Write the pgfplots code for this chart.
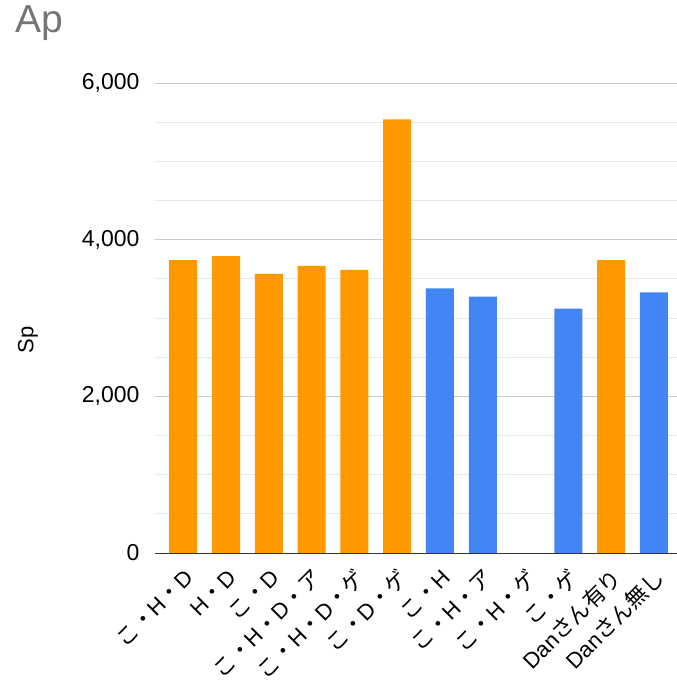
\documentclass[border=0pt]{standalone}
\usepackage{pgfplots}
\pgfplotsset{compat=1.18}
\usepackage{fontspec}
\setmainfont{Liberation Sans}
\newfontfamily\cjk{Noto Sans CJK JP}
\definecolor{gorange}{HTML}{FF9900}
\definecolor{gblue}{HTML}{4285F4}
\definecolor{gmajor}{HTML}{CCCCCC}
\definecolor{gminor}{HTML}{E6E6E6}
\definecolor{gtitle}{HTML}{757575}
\begin{document}
\begin{tikzpicture}
\path[use as bounding box] (0,0) rectangle (677bp,694bp);
\node[anchor=base west, text=gtitle, font=\fontsize{39bp}{44bp}\selectfont, inner sep=0pt] at (15bp,661bp) {Ap};
\node[rotate=90, font=\fontsize{22bp}{26bp}\selectfont, inner sep=0pt] at (28bp,354bp) {Sp};
\begin{axis}[
  at={(155bp,141bp)}, anchor=south west,
  scale only axis, width=522bp, height=470bp,
  xmin=-0.66, xmax=11.54, ymin=0, ymax=6000,
  ytick={0,2000,4000,6000},
  minor y tick num=3,
  ymajorgrids, yminorgrids,
  major grid style={gmajor, line width=0.9pt},
  minor grid style={gminor, line width=0.9pt},
  major tick length=0pt, minor tick length=0pt,
  axis line style={draw=none},
  scaled y ticks=false,
  /pgf/number format/assume math mode=true,
  yticklabel style={font=\fontsize{23bp}{27bp}\selectfont, xshift=-12bp},
  xtick={0,...,11},
  xticklabels={
    {\cjk こ・}H{\cjk ・}D,
    H{\cjk ・}D,
    {\cjk こ・}D,
    {\cjk こ・}H{\cjk ・}D{\cjk ・ア},
    {\cjk こ・}H{\cjk ・}D{\cjk ・ゲ},
    {\cjk こ・}D{\cjk ・ゲ},
    {\cjk こ・}H,
    {\cjk こ・}H{\cjk ・ア},
    {\cjk こ・}H{\cjk ・ゲ},
    {\cjk こ・ゲ},
    Dan{\cjk さん有り},
    Dan{\cjk さん無し}},
  xticklabel style={font=\fontsize{22bp}{26bp}\selectfont, shift={(7bp,-20bp)}, rotate=45, anchor=east, inner sep=1pt},
  ybar, bar width=28bp, bar shift=0pt,
  clip=false,
]
\addplot[draw=none, fill=gorange] coordinates {(0,3740) (1,3791) (2,3562) (3,3664) (4,3613) (5,5536) (10,3740)};
\addplot[draw=none, fill=gblue] coordinates {(6,3379) (7,3272) (9,3119) (11,3328)};
\draw[color=black!80, line width=1pt] (axis cs:-0.66,0) -- (axis cs:11.54,0);
\end{axis}
\end{tikzpicture}
\end{document}
